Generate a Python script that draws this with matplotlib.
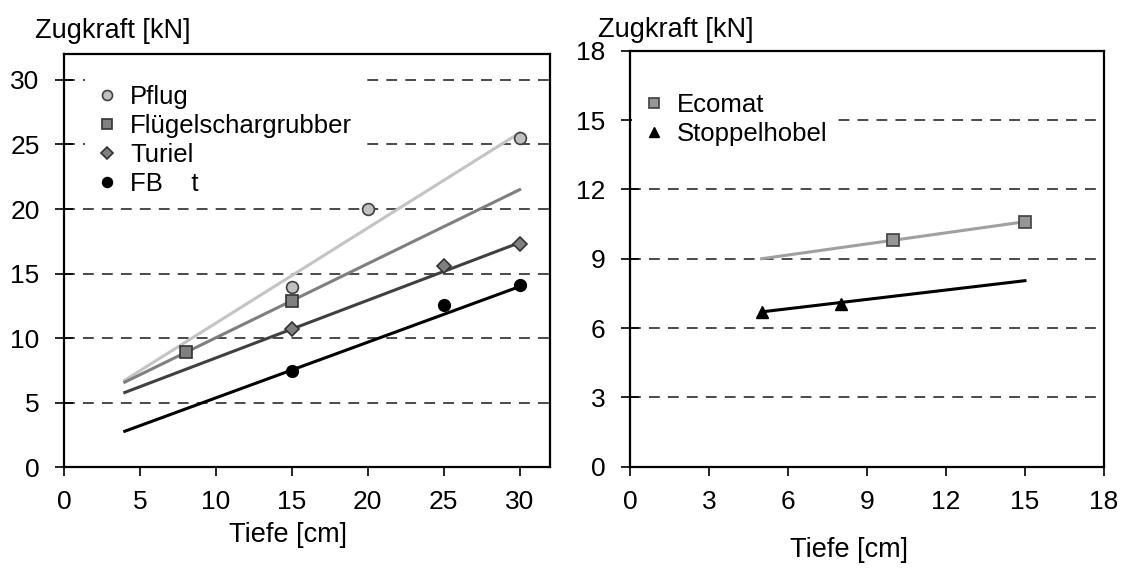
import matplotlib
matplotlib.use("Agg")
import matplotlib.pyplot as plt
from matplotlib.lines import Line2D

plt.rcParams['font.family'] = ['Liberation Sans', 'DejaVu Sans']

# left panel: measured points
tiefe_pflug = [15, 20, 30]
zug_pflug = [14.0, 20.0, 25.5]
tiefe_fluegel = [8, 15]
zug_fluegel = [8.9, 12.9]
tiefe_turiel = [15, 25, 30]
zug_turiel = [10.7, 15.6, 17.3]
tiefe_fbt = [15, 25, 30]
zug_fbt = [7.5, 12.6, 14.1]

# left panel: trend lines (start/end)
trend_x_left = [4, 30]
trend_pflug = [6.75, 25.9]
trend_fluegel = [6.6, 21.5]
trend_turiel = [5.8, 17.4]
trend_fbt = [2.8, 14.0]

# right panel
tiefe_ecomat = [10, 15]
zug_ecomat = [9.8, 10.6]
tiefe_stoppel = [5, 8]
zug_stoppel = [6.7, 7.05]
trend_x_right = [5, 15]
trend_ecomat = [9.0, 10.6]
trend_stoppel = [6.7, 8.05]

ticks_left = [0, 5, 10, 15, 20, 25, 30]
ticks_right = [0, 3, 6, 9, 12, 15, 18]

TICK_FS = 19
LABEL_FS = 19.5
LEG_FS = 18.5
MS = 8.5


def style_axes(ax, ticks, lim, grid_vals):
    for s in ax.spines.values():
        s.set_linewidth(1.6)
        s.set_color('black')
    ax.set_xlim(0, lim)
    ax.set_ylim(0, lim)
    ax.set_xticks(ticks)
    ax.set_yticks(ticks)
    ax.tick_params(axis='y', direction='inout', length=13, width=1.2,
                   pad=11, labelsize=TICK_FS)
    ax.tick_params(axis='x', direction='out', length=6.5, width=1.2,
                   pad=10, labelsize=TICK_FS)
    for v in grid_vals:
        ax.axhline(v, color='#3c3c3c', lw=1.3, ls=(0, (6, 4.5)), zorder=1)


def add_legend(ax, handles, labels, anchor):
    leg = ax.legend(handles, labels, loc='upper left', bbox_to_anchor=anchor,
                    borderaxespad=0, fontsize=LEG_FS, frameon=True,
                    fancybox=False, framealpha=1, edgecolor='none',
                    facecolor='white', handlelength=0.9, handletextpad=0.45,
                    labelspacing=0.2, borderpad=0.4, markerscale=0.85)
    leg.set_zorder(2)
    return leg


fig = plt.figure(figsize=(11.29, 5.75), dpi=100)

# left panel
ax1 = fig.add_axes([0.0567, 0.1871, 0.4305, 0.7190])
style_axes(ax1, ticks_left, 32, [5, 10, 15, 20, 25, 30])

ax1.plot(trend_x_left, trend_pflug, color='#c4c4c4', lw=2.2, zorder=3)
ax1.plot(trend_x_left, trend_fluegel, color='#7f7f7f', lw=2.2, zorder=3)
ax1.plot(trend_x_left, trend_turiel, color='#404040', lw=2.2, zorder=3)
ax1.plot(trend_x_left, trend_fbt, color='black', lw=2.2, zorder=3)

ax1.plot(tiefe_pflug, zug_pflug, ls='none', marker='o', ms=MS,
         mfc='#c0c0c0', mec='#404040', mew=1.2, zorder=4)
ax1.plot(tiefe_fluegel, zug_fluegel, ls='none', marker='s', ms=MS,
         mfc='#808080', mec='#333333', mew=1.2, zorder=4)
ax1.plot(tiefe_turiel, zug_turiel, ls='none', marker='D', ms=MS - 1.5,
         mfc='#808080', mec='#333333', mew=1.2, zorder=4)
ax1.plot(tiefe_fbt, zug_fbt, ls='none', marker='o', ms=MS,
         mfc='black', mec='black', zorder=4)

handles1 = [
    Line2D([], [], ls='none', marker='o', ms=MS, mfc='#c0c0c0', mec='#404040', mew=1.2),
    Line2D([], [], ls='none', marker='s', ms=MS, mfc='#808080', mec='#333333', mew=1.2),
    Line2D([], [], ls='none', marker='D', ms=MS - 1.5, mfc='#808080', mec='#333333', mew=1.2),
    Line2D([], [], ls='none', marker='o', ms=MS, mfc='black', mec='black'),
]
add_legend(ax1, handles1, ['Pflug', 'Flügelschargrubber', 'Turiel', 'FB    t'],
           (0.043, 0.95))

ax1.text(0.46, -0.163, 'Tiefe [cm]', transform=ax1.transAxes,
         ha='center', va='center', fontsize=LABEL_FS)
fig.text(35 / 1129, 1 - 38.5 / 575, 'Zugkraft [kN]', ha='left',
         va='baseline', fontsize=LABEL_FS)

# right panel
ax2 = fig.add_axes([0.5580, 0.1883, 0.4198, 0.7235])
style_axes(ax2, ticks_right, 18, [3, 6, 9, 12, 15])

ax2.plot(trend_x_right, trend_ecomat, color='#a0a0a0', lw=2.2, zorder=3)
ax2.plot(trend_x_right, trend_stoppel, color='black', lw=2.2, zorder=3)
ax2.plot(tiefe_ecomat, zug_ecomat, ls='none', marker='s', ms=MS,
         mfc='#969696', mec='#404040', mew=1.2, zorder=4)
ax2.plot(tiefe_stoppel, zug_stoppel, ls='none', marker='^', ms=MS + 0.5,
         mfc='black', mec='black', zorder=4)

handles2 = [
    Line2D([], [], ls='none', marker='s', ms=MS, mfc='#969696', mec='#404040', mew=1.2),
    Line2D([], [], ls='none', marker='^', ms=MS + 0.5, mfc='black', mec='black'),
]
add_legend(ax2, handles2, ['Ecomat', 'Stoppelhobel'], (0.004, 0.923))

ax2.text(0.462, -0.2, 'Tiefe [cm]', transform=ax2.transAxes,
         ha='center', va='center', fontsize=LABEL_FS)
fig.text(598 / 1129, 1 - 37 / 575, 'Zugkraft [kN]', ha='left',
         va='baseline', fontsize=LABEL_FS)

fig.savefig('out.png', dpi=100)
